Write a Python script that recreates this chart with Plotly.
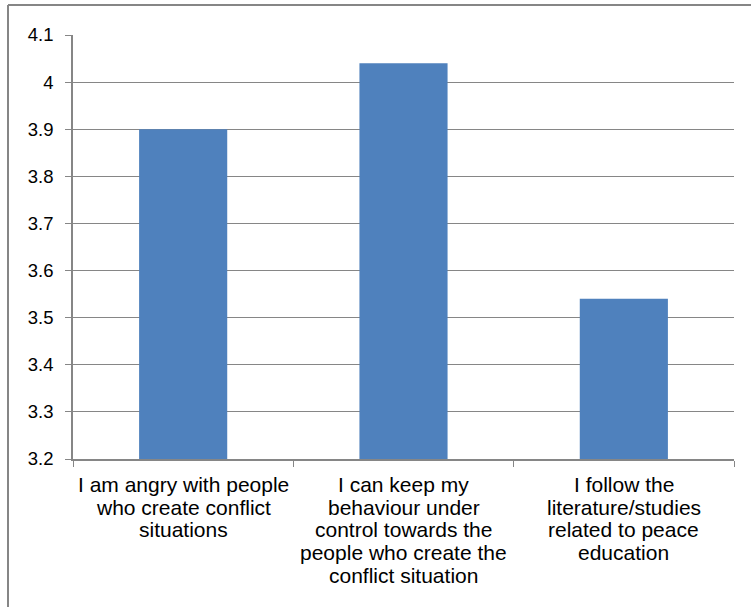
import plotly.graph_objects as go

categories = [
    "I am angry with people\nwho create conflict\nsituations",
    "I can keep my\nbehaviour under\ncontrol towards the\npeople who create the\nconflict situation",
    "I follow the\nliterature/studies\nrelated to peace\neducation",
]
values = [3.90, 4.04, 3.54]
axis_min = 3.2
tick_vals = [3.2, 3.3, 3.4, 3.5, 3.6, 3.7, 3.8, 3.9, 4.0, 4.1]
tick_text = ["3.2", "3.3", "3.4", "3.5", "3.6", "3.7", "3.8", "3.9", "4", "4.1"]

GRAY = "#868686"
FONT = "Liberation Sans, Arial, sans-serif"

fig = go.Figure(go.Bar(
    x=categories, y=[v - axis_min for v in values], base=axis_min,
    marker_color="#4F81BD", marker_line_width=0, showlegend=False,
    hoverinfo="skip",
))

fig.update_layout(
    width=751, height=607,
    margin=dict(l=73, r=17, t=35, b=148),
    paper_bgcolor="white", plot_bgcolor="white",
    bargap=0.6,
    font=dict(family=FONT, size=18, color="black"),
)
fig.update_yaxes(
    range=[3.2, 4.1], tickvals=tick_vals, ticktext=tick_text,
    showgrid=True, gridcolor=GRAY, gridwidth=1.3,
    showline=True, linecolor=GRAY, linewidth=1.5,
    ticks="outside", ticklen=6, tickcolor=GRAY, tickwidth=1.3,
    zeroline=False, tickfont=dict(size=18.5), ticklabelstandoff=8,
)
fig.update_xaxes(
    showline=True, linecolor=GRAY, linewidth=1.5,
    ticks="outside", ticklen=6, tickcolor=GRAY, tickwidth=1.3,
    tickson="boundaries", showticklabels=False,
)

# category labels, one annotation per line (tight Excel-like line spacing)
for cat in categories:
    for i, line in enumerate(cat.split("\n")):
        fig.add_annotation(
            x=cat, xref="x", y=0, yref="paper",
            text=line, showarrow=False, xanchor="center", yanchor="top",
            yshift=-(12 + 22.7 * i), font=dict(family=FONT, size=21, color="black"),
        )

# outer chart border (left and top visible)
ph = 459 - 35
pw = 734 - 73
fig.add_shape(type="line", xref="paper", yref="paper",
              x0=-65 / pw, x1=(751 - 73) / pw, y0=(459 - 5) / ph, y1=(459 - 5) / ph,
              line=dict(color=GRAY, width=2))
fig.add_shape(type="line", xref="paper", yref="paper",
              x0=-65 / pw, x1=-65 / pw, y0=(459 - 5) / ph, y1=-160 / ph,
              line=dict(color=GRAY, width=2))

fig.write_html("out.html")
